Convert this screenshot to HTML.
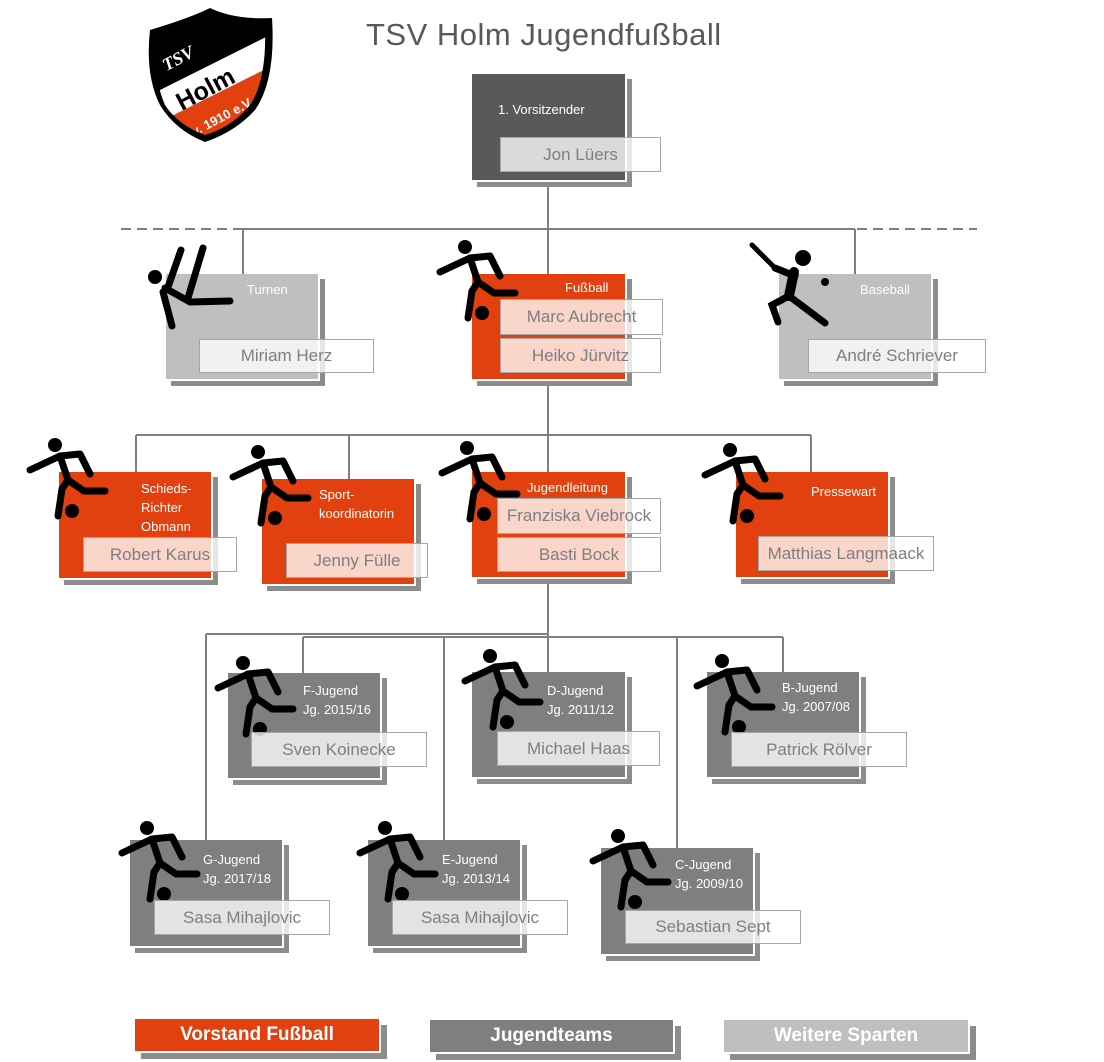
<!DOCTYPE html>
<html><head><meta charset="utf-8"><style>
body{margin:0;background:#fff;width:1104px;height:1062px;position:relative;overflow:hidden;font-family:"Liberation Sans",sans-serif}
.b{position:absolute;box-shadow:1px 1px 0 1px #fff,6px 6px 0 1px #8c8c8c;z-index:1}
.o{background:#e2400e}.g{background:#7f7f7f}.l{background:#bfbfbf}.d{background:#595959}
.lb{position:absolute;color:#fff;font-size:13px;line-height:19px;z-index:4}
.n{position:absolute;background:rgba(255,255,255,0.78);border:1px solid #a6a6a6;color:#7f7f7f;font-size:17px;text-align:center;box-sizing:border-box;z-index:4;display:flex;align-items:center;justify-content:center}
.lg{position:absolute;color:#fff;font-weight:bold;font-size:19px;text-align:center;line-height:32px;height:32px;box-shadow:1px 1px 0 1px #fff,7px 7px 0 1px #8c8c8c}
svg{position:absolute;left:0;top:0}
</style></head><body>
<svg width="1104" height="1062" style="z-index:0">
<g stroke="#7f7f7f" stroke-width="2" fill="none">
<line x1="121" y1="229" x2="977" y2="229" stroke-dasharray="10,6"/>
<line x1="243" y1="229" x2="855" y2="229"/>
<line x1="548" y1="180" x2="548" y2="274"/>
<line x1="243" y1="229" x2="243" y2="274"/>
<line x1="855" y1="229" x2="855" y2="274"/>
<line x1="548" y1="379" x2="548" y2="472"/>
<line x1="136" y1="435" x2="811" y2="435"/>
<line x1="136" y1="435" x2="136" y2="472"/>
<line x1="349" y1="435" x2="349" y2="479"/>
<line x1="811" y1="435" x2="811" y2="472"/>
<line x1="548" y1="577" x2="548" y2="672"/>
<line x1="206" y1="634" x2="548" y2="634"/>
<line x1="303" y1="637" x2="783" y2="637"/>
<line x1="206" y1="634" x2="206" y2="840"/>
<line x1="303" y1="637" x2="303" y2="673"/>
<line x1="444" y1="637" x2="444" y2="840"/>
<line x1="677" y1="637" x2="677" y2="848"/>
<line x1="783" y1="637" x2="783" y2="672"/>
</g></svg>

<svg width="1104" height="160" style="z-index:1">
<defs><clipPath id="sh"><path d="M157,36 Q192,25 210,16 Q233,27 265,25 Q267,80 250,105 Q232,127 205,135 Q178,125 165,105 Q152,75 157,36Z"/></clipPath></defs>
<path d="M150,30 Q190,18 210,8 Q235,20 272,18 Q276,80 255,110 Q235,132 205,142 Q175,130 160,105 Q145,75 150,30Z" fill="#000"/>
<g clip-path="url(#sh)">
<rect x="140" y="0" width="140" height="150" fill="#000"/>
<path d="M140,100 L280,30 L280,62 L140,132Z" fill="#fff"/>
<path d="M140,132 L280,62 L280,160 L140,160Z" fill="#e2400e"/>
<text x="162" y="66" transform="rotate(-28 175 60)" font-family="Liberation Serif" font-weight="bold" font-style="italic" font-size="18" fill="#fff">TSV</text>
<text x="172" y="101" transform="rotate(-60 195 90)" font-family="Liberation Sans" font-weight="bold" font-size="1" fill="#000"></text>
<text x="174" y="100" transform="rotate(-28 200 90)" font-family="Liberation Sans" font-weight="bold" font-size="25" fill="#000">Holm</text>
<text x="188" y="126" transform="rotate(-28 212 118)" font-family="Liberation Sans" font-weight="bold" font-size="13" fill="#fff">v. 1910 e.V.</text>
</g>
</svg>
<div style="position:absolute;left:366px;top:17px;font-size:31px;letter-spacing:0.5px;color:#595959;z-index:2">TSV Holm Jugendfußball</div>

<div class="b d" style="left:472px;top:74px;width:153px;height:106px"></div>
<div class="lb" style="left:498px;top:100px">1. Vorsitzender</div>
<div class="n" style="left:500px;top:137px;width:161px;height:35px">Jon Lüers</div>

<div class="b l" style="left:166px;top:274px;width:152px;height:105px"></div>
<div class="lb" style="left:247px;top:280px">Turnen</div>
<div class="n" style="left:199px;top:339px;width:175px;height:34px">Miriam Herz</div>

<div class="b o" style="left:472px;top:274px;width:153px;height:105px"></div>
<div class="lb" style="left:565px;top:278px">Fußball</div>
<div class="n" style="left:500px;top:299px;width:163px;height:36px">Marc Aubrecht</div>
<div class="n" style="left:500px;top:338px;width:161px;height:35px">Heiko Jürvitz</div>

<div class="b l" style="left:779px;top:274px;width:152px;height:105px"></div>
<div class="lb" style="left:860px;top:280px">Baseball</div>
<div class="n" style="left:808px;top:339px;width:178px;height:34px">André Schriever</div>

<div class="b o" style="left:59px;top:472px;width:152px;height:106px"></div>
<div class="lb" style="left:141px;top:479px">Schieds-<br>Richter<br>Obmann</div>
<div class="n" style="left:83px;top:537px;width:154px;height:35px">Robert Karus</div>

<div class="b o" style="left:262px;top:479px;width:152px;height:105px"></div>
<div class="lb" style="left:319px;top:485px">Sport-<br>koordinatorin</div>
<div class="n" style="left:286px;top:543px;width:142px;height:35px">Jenny Fülle</div>

<div class="b o" style="left:472px;top:472px;width:153px;height:105px"></div>
<div class="lb" style="left:527px;top:478px">Jugendleitung</div>
<div class="n" style="left:497px;top:498px;width:164px;height:36px">Franziska Viebrock</div>
<div class="n" style="left:497px;top:537px;width:164px;height:35px">Basti Bock</div>

<div class="b o" style="left:736px;top:472px;width:152px;height:105px"></div>
<div class="lb" style="left:811px;top:482px">Pressewart</div>
<div class="n" style="left:758px;top:536px;width:176px;height:35px">Matthias Langmaack</div>

<div class="b g" style="left:228px;top:673px;width:152px;height:105px"></div>
<div class="lb" style="left:303px;top:681px">F-Jugend<br>Jg. 2015/16</div>
<div class="n" style="left:251px;top:732px;width:176px;height:35px">Sven Koinecke</div>

<div class="b g" style="left:472px;top:672px;width:153px;height:105px"></div>
<div class="lb" style="left:547px;top:681px">D-Jugend<br>Jg. 2011/12</div>
<div class="n" style="left:497px;top:731px;width:163px;height:35px">Michael Haas</div>

<div class="b g" style="left:707px;top:672px;width:152px;height:105px"></div>
<div class="lb" style="left:782px;top:678px">B-Jugend<br>Jg. 2007/08</div>
<div class="n" style="left:731px;top:732px;width:176px;height:35px">Patrick Rölver</div>

<div class="b g" style="left:130px;top:840px;width:152px;height:106px"></div>
<div class="lb" style="left:203px;top:850px">G-Jugend<br>Jg. 2017/18</div>
<div class="n" style="left:154px;top:900px;width:176px;height:35px">Sasa Mihajlovic</div>

<div class="b g" style="left:368px;top:840px;width:152px;height:106px"></div>
<div class="lb" style="left:442px;top:850px">E-Jugend<br>Jg. 2013/14</div>
<div class="n" style="left:392px;top:900px;width:176px;height:35px">Sasa Mihajlovic</div>

<div class="b g" style="left:601px;top:848px;width:152px;height:106px"></div>
<div class="lb" style="left:675px;top:855px">C-Jugend<br>Jg. 2009/10</div>
<div class="n" style="left:625px;top:910px;width:176px;height:34px">Sebastian Sept</div>

<svg width="1104" height="1062" style="z-index:3">
<defs>
<g id="k" stroke="#000" stroke-width="7" stroke-linecap="round" stroke-linejoin="round" fill="none">
<circle cx="0" cy="0" r="7" fill="#000" stroke="none"/>
<polyline points="-25,25 5,11 25,9 35,29"/>
<line x1="5" y1="11" x2="13" y2="35"/>
<polyline points="13,35 29,46 50,46"/>
<polyline points="13,35 7,44 3,71"/>
<circle cx="17" cy="66" r="7" fill="#000" stroke="none"/>
</g>
</defs>
<use href="#k" x="465" y="247"/>
<use href="#k" x="55" y="445"/>
<use href="#k" x="258" y="452"/>
<use href="#k" x="467" y="448"/>
<use href="#k" x="730" y="450"/>
<use href="#k" x="243" y="663"/>
<use href="#k" x="490" y="656"/>
<use href="#k" x="722" y="661"/>
<use href="#k" x="147" y="828"/>
<use href="#k" x="385" y="828"/>
<use href="#k" x="618" y="836"/>
<g stroke="#000" stroke-width="7" stroke-linecap="round" fill="none">
<circle cx="155" cy="277" r="7" fill="#000" stroke="none"/>
<polyline points="165,288 190,302 230,301"/>
<line x1="168" y1="287" x2="181" y2="250"/>
<line x1="188" y1="298" x2="203" y2="248"/>
<line x1="163" y1="292" x2="172" y2="326"/>
<line x1="752" y1="245" x2="775" y2="268" stroke-width="5"/>
<circle cx="803" cy="258" r="8" fill="#000" stroke="none"/>
<line x1="794" y1="272" x2="789" y2="296" stroke-width="10"/>
<line x1="775" y1="268" x2="795" y2="276"/>
<polyline points="789,296 772,305 778,322"/>
<line x1="789" y1="296" x2="825" y2="323"/>
<circle cx="825" cy="282" r="4" fill="#000" stroke="none"/>
</g>
</svg>

<div class="lg o" style="left:135px;top:1019px;width:244px">Vorstand Fußball</div>
<div class="lg g" style="left:430px;top:1020px;width:243px">Jugendteams</div>
<div class="lg l" style="left:724px;top:1020px;width:244px">Weitere Sparten</div>
</body></html>
